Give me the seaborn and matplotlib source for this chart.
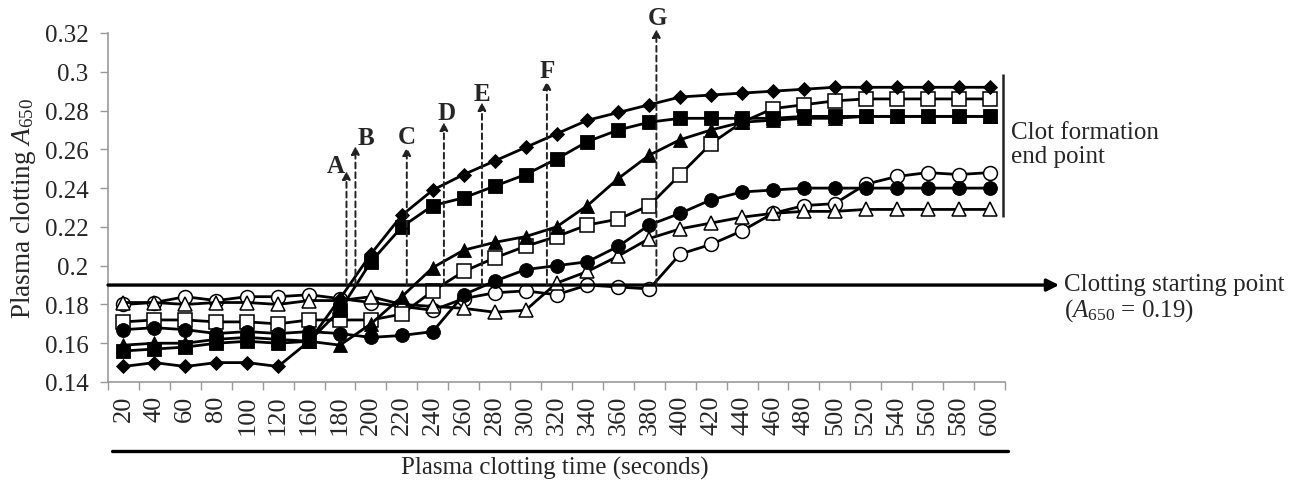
import numpy as np
import pandas as pd
import matplotlib
matplotlib.use("Agg")
import matplotlib.pyplot as plt
from matplotlib.lines import Line2D
import seaborn as sns

times = [20, 40, 60, 80, 100, 120, 160, 180, 200, 220, 240, 260, 280, 300, 320,
         340, 360, 380, 400, 420, 440, 460, 480, 500, 520, 540, 560, 580, 600]

open_circle = [0.180, 0.181, 0.184, 0.182, 0.184, 0.184, 0.185, 0.183, 0.181, 0.179,
               0.177, 0.183, 0.186, 0.187, 0.185, 0.190, 0.189, 0.188, 0.206, 0.211,
               0.218, 0.227, 0.231, 0.232, 0.242, 0.246, 0.248, 0.247, 0.248]
open_triangle = [0.181, 0.181, 0.180, 0.181, 0.181, 0.180, 0.182, 0.182, 0.184, 0.180,
                 0.179, 0.178, 0.176, 0.177, 0.191, 0.197, 0.205, 0.214, 0.219, 0.222,
                 0.225, 0.227, 0.228, 0.228, 0.229, 0.229, 0.229, 0.229, 0.229]
open_square = [0.171, 0.172, 0.172, 0.171, 0.171, 0.170, 0.172, 0.172, 0.172, 0.175,
               0.187, 0.197, 0.204, 0.210, 0.215, 0.221, 0.224, 0.231, 0.247, 0.263,
               0.274, 0.281, 0.283, 0.285, 0.286, 0.286, 0.286, 0.286, 0.286]
filled_circle = [0.167, 0.168, 0.167, 0.165, 0.166, 0.165, 0.166, 0.165, 0.163, 0.164,
                 0.166, 0.185, 0.192, 0.198, 0.200, 0.202, 0.210, 0.221, 0.227, 0.234,
                 0.238, 0.239, 0.240, 0.240, 0.240, 0.240, 0.240, 0.240, 0.240]
filled_triangle = [0.159, 0.160, 0.160, 0.162, 0.163, 0.162, 0.161, 0.159, 0.170, 0.184,
                   0.199, 0.208, 0.212, 0.215, 0.220, 0.231, 0.245, 0.257, 0.265, 0.270,
                   0.274, 0.275, 0.276, 0.276, 0.277, 0.277, 0.277, 0.277, 0.277]
filled_square = [0.156, 0.157, 0.158, 0.160, 0.161, 0.160, 0.161, 0.177, 0.202, 0.220,
                 0.231, 0.235, 0.241, 0.247, 0.255, 0.264, 0.270, 0.274, 0.276, 0.276,
                 0.276, 0.276, 0.277, 0.277, 0.277, 0.277, 0.277, 0.277, 0.277]
filled_diamond = [0.148, 0.150, 0.148, 0.150, 0.150, 0.148, 0.161, 0.183, 0.206, 0.226,
                  0.239, 0.247, 0.254, 0.261, 0.268, 0.275, 0.279, 0.283, 0.287, 0.288,
                  0.289, 0.290, 0.291, 0.292, 0.292, 0.292, 0.292, 0.292, 0.292]

y_ticks = [0.14, 0.16, 0.18, 0.2, 0.22, 0.24, 0.26, 0.28, 0.3, 0.32]
y_tick_labels = ["0.14", "0.16", "0.18", "0.2", "0.22", "0.24", "0.26", "0.28", "0.3", "0.32"]

threshold = 0.19
arrow_labels = ["A", "B", "C", "D", "E", "F", "G"]
arrow_x = [7.21, 7.50, 9.16, 10.36, 11.59, 13.69, 17.23]
arrow_top = [0.2488, 0.2617, 0.2611, 0.2740, 0.2843, 0.2952, 0.3220]
label_x = [6.86, 7.83, 9.16, 10.45, 11.59, 13.69, 17.26]
label_y = [0.2515, 0.2660, 0.2665, 0.2790, 0.2890, 0.3005, 0.3280]

sns.set_theme(style="white")
plt.rcParams["font.family"] = ["Liberation Serif", "DejaVu Serif"]
plt.rcParams["mathtext.fontset"] = "custom"
plt.rcParams["mathtext.rm"] = "Liberation Serif"
plt.rcParams["mathtext.it"] = "Liberation Serif:italic"

W, H = 1301, 489
fig = plt.figure(figsize=(W / 100, H / 100), dpi=100)
ax = fig.add_axes([108 / W, 1 - 383 / H, (1005 - 108) / W, (383 - 34) / H])

idx = np.arange(len(times))
series = [
    (open_circle, "o", "white", 10),
    (open_triangle, "^", "white", 10.5),
    (open_square, "s", "white", 10.5),
    (filled_circle, "o", "black", 10),
    (filled_triangle, "^", "black", 10.5),
    (filled_square, "s", "black", 10.5),
    (filled_diamond, "D", "black", 7.5),
]
for vals, mk, fc, ms in series:
    df = pd.DataFrame({"x": idx, "y": vals})
    sns.lineplot(data=df, x="x", y="y", ax=ax, color="black", lw=2.0,
                 marker=mk, markersize=ms, markerfacecolor=fc,
                 markeredgecolor="black", markeredgewidth=1.1 if fc == "white" else 0.6,
                 legend=False)

ax.set_xlim(-0.5, len(times) - 0.5)
ax.set_ylim(0.14, 0.32)
ax.set_xticks(idx)
ax.set_xticklabels([str(t) for t in times], rotation=90, fontsize=19)
ax.set_xticks(np.arange(-0.5, len(times), 1.0), minor=True)
ax.tick_params(axis="x", which="major", length=0, pad=9)
ax.tick_params(axis="x", which="minor", length=6, color="#999999", width=1, direction="out", bottom=True)
ax.set_yticks(y_ticks)
ax.set_yticklabels(y_tick_labels, fontsize=18)
ax.tick_params(axis="y", length=6, color="#999999", width=1, direction="out", left=True, pad=8)
for s in ["top", "right"]:
    ax.spines[s].set_visible(False)
for s in ["left", "bottom"]:
    ax.spines[s].set_color("#999999")
    ax.spines[s].set_linewidth(1.2)

ax.set_xlabel("")
ax.set_ylabel("Plasma clotting $A_{650}$", fontsize=19.5, labelpad=5)
fig.text(555 / W, 1 - 468 / H, "Plasma clotting time (seconds)", fontsize=18,
         ha="center", va="center")

ax.annotate("", xy=(30.25, threshold), xytext=(-0.5, threshold),
            arrowprops=dict(arrowstyle="-|>", lw=2.4, color="black", mutation_scale=18,
                            shrinkA=0, shrinkB=0), annotation_clip=False)
ax.text(30.4, threshold + 0.0005, "Clotting starting point", fontsize=18, ha="left", va="center")
ax.text(30.4, 0.1775, "($A_{650}$ = 0.19)", fontsize=18, ha="left", va="center")

ax.vlines(28.44, 0.2251, 0.2988, color="#222222", lw=1.8, clip_on=False)
ax.text(28.7, 0.2627, "Clot formation\nend point", fontsize=18, ha="left", va="center",
        linespacing=1.1)

for lab, xa, yt, lx, ly in zip(arrow_labels, arrow_x, arrow_top, label_x, label_y):
    ax.annotate("", xy=(xa, yt), xytext=(xa, threshold),
                arrowprops=dict(arrowstyle="-|>", lw=1.4, ls=(0, (3, 2)), color="#222222",
                                mutation_scale=12, shrinkA=0, shrinkB=0),
                annotation_clip=False)
    ax.text(lx, ly, lab, fontsize=18, fontweight="bold", ha="center", va="center")

fig.add_artist(Line2D([112 / W, 1008 / W], [1 - 452 / H, 1 - 452 / H],
                      color="black", lw=2.4, transform=fig.transFigure))

fig.savefig("out.png", dpi=100)
